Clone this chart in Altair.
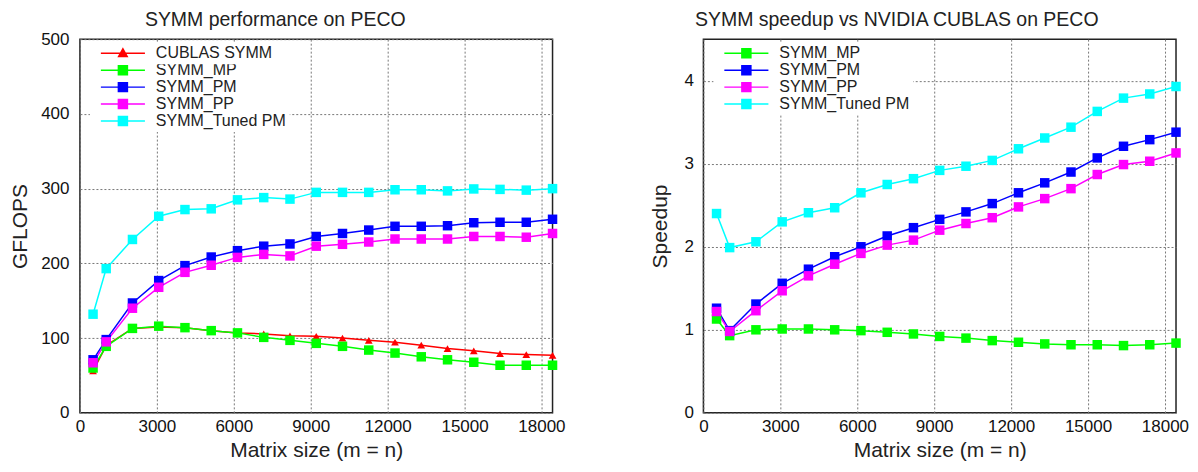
import altair as alt
import pandas as pd

sizes = [512, 1024, 2048, 3072, 4096, 5120, 6144, 7168, 8192, 9216,
         10240, 11264, 12288, 13312, 14336, 15360, 16384, 17408, 18432]

# Left panel: GFLOPS
left_names = ["CUBLAS SYMM", "SYMM_MP", "SYMM_PM", "SYMM_PP", "SYMM_Tuned PM"]
left_colors = ["#ff0000", "#00ff00", "#0000ff", "#ff00ff", "#00ffff"]
g_cublas = [56, 90, 113, 115, 114, 110, 107, 105.6, 103, 102.5, 100, 97, 94.5, 90.5, 86, 83, 79.3, 78, 77]
g_mp = [60, 89, 113, 116, 114, 110, 107, 101, 97, 93, 89, 84, 80, 75, 71, 67.7, 63.7, 63.7, 63.7]
g_pm = [71, 98, 147, 177, 197, 208.5, 217, 223, 226, 236, 240, 244.6, 249.6, 249.6, 250.4, 254.4, 255, 255, 259]
g_pp = [67, 95, 140, 168, 188, 197.5, 208, 212, 210, 223, 225.5, 228.6, 232.6, 232.6, 232.6, 236, 236, 235, 240]
g_tuned = [132, 193, 232, 263, 272, 273, 285, 288, 286, 295, 295, 295, 298.5, 298.5, 297, 299.6, 299, 298, 300]

# Right panel: speedup
right_names = ["SYMM_MP", "SYMM_PM", "SYMM_PP", "SYMM_Tuned PM"]
right_colors = ["#00ff00", "#0000ff", "#ff00ff", "#00ffff"]
s_mp = [1.13, 0.93, 1.00, 1.01, 1.01, 1.00, 0.99, 0.97, 0.95, 0.92, 0.90, 0.87, 0.85, 0.83, 0.82, 0.82, 0.81, 0.82, 0.84]
s_pm = [1.26, 0.99, 1.31, 1.56, 1.73, 1.88, 2.00, 2.13, 2.23, 2.33, 2.42, 2.52, 2.65, 2.77, 2.90, 3.07, 3.21, 3.29, 3.38]
s_pp = [1.22, 0.98, 1.23, 1.47, 1.65, 1.79, 1.92, 2.02, 2.08, 2.20, 2.28, 2.35, 2.48, 2.58, 2.70, 2.87, 2.99, 3.03, 3.13]
s_tuned = [2.40, 1.99, 2.06, 2.30, 2.41, 2.47, 2.65, 2.75, 2.82, 2.92, 2.97, 3.04, 3.18, 3.31, 3.44, 3.63, 3.79, 3.84, 3.93]

x_ticks = [0, 3000, 6000, 9000, 12000, 15000, 18000]
left_y_ticks = [0, 100, 200, 300, 400, 500]
right_y_ticks = [0, 1, 2, 3, 4]

FONT = "Liberation Sans"
TRI = "CUBLAS SYMM"
# legend glyphs (unit = sqrt(symbolSize)/2): line segment + marker
LEG_STROKE_SQUARE = ("M-4.9,0H4.9M-1,-1H1V1H-1ZM-1,-0.75H1M-1,-0.5H1M-1,-0.25H1"
                     "M-1,0.25H1M-1,0.5H1M-1,0.75H1")
LEG_TRIANGLE = "M-4.9,0H4.9M0,-0.95L0.95,0.75H-0.95Z"


def long_df(names, arrays):
    rows = []
    for i, (n, arr) in enumerate(zip(names, arrays)):
        for s, v in zip(sizes, arr):
            rows.append({"size": s, "value": v, "series": n, "k": i})
    return pd.DataFrame(rows)


def legend_props(y, **kw):
    return alt.Legend(title=None, orient="none", legendX=10, legendY=y,
                      labelFont=FONT, labelFontSize=16, labelColor="#222",
                      symbolSize=81, symbolStrokeWidth=1.5, symbolOpacity=1,
                      symbolOffset=22, labelOffset=25,
                      padding=3, rowPadding=1, fillColor="white", **kw)


def panel(df, names, colors, ydomain, yticks, ytitle, title, dx, title_offset,
          ylabel_pad, ytitle_pad):
    cscale = alt.Scale(domain=names, range=colors)
    xenc = alt.X("size:Q",
                 scale=alt.Scale(domain=[0, 18432], nice=False, zero=False),
                 axis=alt.Axis(values=x_ticks, title="Matrix size (m = n)",
                               labelFlush=False, labelPadding=6, titlePadding=5,
                               format="d"))
    yenc = alt.Y("value:Q",
                 scale=alt.Scale(domain=ydomain, nice=False, zero=False),
                 axis=alt.Axis(values=yticks, title=ytitle, labelPadding=ylabel_pad,
                               titlePadding=ytitle_pad, format="d"))
    has_tri = TRI in names
    others = [n for n in names if n != TRI]
    top_y = 3
    line_leg = legend_props(top_y + 17 if has_tri else top_y,
                            symbolType=LEG_STROKE_SQUARE, values=others)
    base = alt.Chart(df)
    lines = base.mark_line(strokeWidth=1.5).encode(
        x=xenc, y=yenc,
        color=alt.Color("series:N", scale=cscale, legend=line_leg),
        order=alt.Order("size:Q"),
    )
    layers = [lines]
    if has_tri:
        tri_color = colors[names.index(TRI)]
        tris = base.transform_filter(alt.datum.series == TRI).mark_point(
            filled=True, opacity=1, shape="triangle-up", size=60).encode(
            x=xenc, y=yenc,
            fill=alt.Fill("series:N", scale=alt.Scale(domain=[TRI], range=[tri_color]),
                          legend=legend_props(top_y, symbolType=LEG_TRIANGLE,
                                              symbolStrokeColor=tri_color)),
        )
        layers.append(tris)
    squares = base.transform_filter(alt.datum.series != TRI).mark_point(
        filled=True, opacity=1, shape="square", size=90).encode(
        x=xenc, y=yenc,
        color=alt.Color("series:N", scale=cscale, legend=None),
        order=alt.Order("k:Q"),
    )
    layers.append(squares)
    return alt.layer(*layers).properties(
        width=473, height=374,
        title=alt.TitleParams(title, font=FONT, fontSize=19.5, fontWeight="normal",
                              color="#222", anchor="middle", frame="group", dx=dx,
                              offset=title_offset),
    )


left = panel(long_df(left_names, [g_cublas, g_mp, g_pm, g_pp, g_tuned]),
             left_names, left_colors, [0, 500], left_y_ticks, "GFLOPS",
             "SYMM performance on PECO", -41, 0, 11, 10)
right = panel(long_df(right_names, [s_mp, s_pm, s_pp, s_tuned]),
              right_names, right_colors, [0, 4.5], right_y_ticks, "Speedup",
              "SYMM speedup vs NVIDIA CUBLAS on PECO", -43, 9, 10, 13)

chart = alt.hconcat(left, right, spacing=82).resolve_scale(
    x="independent", y="independent", color="independent", fill="independent"
).resolve_legend(color="independent", fill="independent").properties(
    padding=0
).configure_view(
    stroke="#222", strokeWidth=1.5
).configure_axis(
    grid=True, gridColor="#777", gridDash=[2, 2], gridWidth=1,
    domain=False, ticks=False,
    labelFont=FONT, labelFontSize=17, labelColor="#111",
    titleFont=FONT, titleFontSize=21, titleFontWeight="normal", titleColor="#222",
)

chart.save("out.html", embed_options={"renderer": "svg", "actions": False})
